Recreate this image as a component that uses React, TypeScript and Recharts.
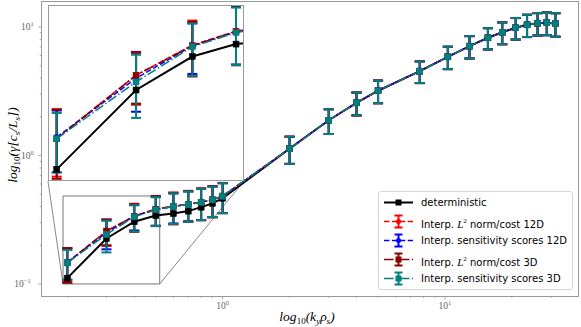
// Growth rate vs k_y rho_s — log-log errorbar chart with zoomed inset
import { ComposedChart, Line, XAxis, YAxis, ErrorBar, ReferenceArea, ReferenceLine } from 'recharts';

const kyRho = [0.2, 0.3, 0.4, 0.5, 0.6, 0.7, 0.8, 0.9, 1.0, 2, 3, 4, 5, 7.7, 10.3, 12.9, 15.6, 18.1, 20.8, 23.4, 26.1, 28.7, 31.4];
const highK = [1.13, 1.88, 2.57, 3.19, 4.53, 5.86, 7.09, 8.24, 9.1, 9.86, 10.4, 10.7, 10.8, 10.6];
const highKErr = [0.27, 0.41, 0.52, 0.64, 0.87, 1.16, 1.4, 1.55, 1.76, 1.88, 2.05, 2.12, 2.17, 2.2];

const deterministic = [0.111, 0.226, 0.305, 0.341, 0.353, 0.369, 0.396, 0.424, 0.465, ...highK];
const l2Cost12 = [0.147, 0.258, 0.338, 0.383, 0.403, 0.418, 0.434, 0.454, 0.484, ...highK];
const l2Cost12Err = [0.043, 0.06, 0.083, 0.1, 0.112, 0.113, 0.12, 0.124, 0.128, ...highKErr];
const sens12 = [0.148, 0.251, 0.336, 0.38, 0.401, 0.416, 0.433, 0.452, 0.482, ...highK];
const sens12Err = [0.04, 0.065, 0.075, 0.096, 0.105, 0.108, 0.118, 0.12, 0.126, ...highKErr];
const l2Cost3 = [0.146, 0.258, 0.336, 0.382, 0.402, 0.417, 0.433, 0.453, 0.483, ...highK];
const l2Cost3Err = [0.044, 0.058, 0.08, 0.1, 0.11, 0.112, 0.12, 0.123, 0.127, ...highKErr];
const sens3 = [0.146, 0.243, 0.333, 0.378, 0.4, 0.415, 0.432, 0.452, 0.482, ...highK];
const sens3Err = [0.038, 0.067, 0.077, 0.095, 0.107, 0.11, 0.118, 0.12, 0.126, ...highKErr];

const xTicks = [0.2, 0.3, 0.4, 0.5, 0.6, 0.7, 0.8, 0.9, 1, 2, 3, 4, 5, 6, 7, 8, 9, 10, 20, 30];
const yTicks = [0.1, 0.2, 0.3, 0.4, 0.5, 0.6, 0.7, 0.8, 0.9, 1, 2, 3, 4, 5, 6, 7, 8, 9, 10];
const majorLabels: Record<number, string> = { 0.1: '\u22121', 1: '0', 10: '1' };

// zoom window shown in the inset, and the inset's lower corners in main-axis units
const zoomX = [0.1913, 0.5208];
const zoomY = [0.1, 0.484];
const insetCornerL = { x: 0.1637, y: 0.633 };
const insetCornerR = { x: 1.247, y: 0.633 };

const rows = kyRho.map((kx, i) => ({
  kx,
  det: deterministic[i],
  l2_12: l2Cost12[i], l2_12e: l2Cost12Err[i],
  s_12: sens12[i], s_12e: sens12Err[i],
  l2_3: l2Cost3[i], l2_3e: l2Cost3Err[i],
  s_3: sens3[i], s_3e: sens3Err[i],
}));

const SPINE = '#999';
const TICK_FONT = '"Liberation Serif", "DejaVu Serif", serif';

const XTick = (props: any) => {
  const { x, y, payload } = props;
  const exp = majorLabels[payload.value];
  return (
    <g>
      <line x1={x} x2={x} y1={y} y2={y + (exp ? 3.5 : 2)} stroke={SPINE} strokeWidth={0.8} />
      {exp && (
        <text x={x} y={y + 13} textAnchor="middle" fontFamily={TICK_FONT} fontSize={9.5} fill="#666">
          10<tspan dy={-4} fontSize={6.5}>{exp}</tspan>
        </text>
      )}
    </g>
  );
};

const YTick = (props: any) => {
  const { x, y, payload } = props;
  const exp = majorLabels[payload.value];
  return (
    <g>
      <line x1={x - (exp ? 3.5 : 2)} x2={x} y1={y} y2={y} stroke={SPINE} strokeWidth={0.8} />
      {exp && (
        <text x={x - (exp.length > 1 ? 11 : 8)} y={y + 3.5} textAnchor="end" fontFamily={TICK_FONT} fontSize={9.5} fill="#666">
          10<tspan dy={-4} fontSize={6.5}>{exp}</tspan>
        </text>
      )}
    </g>
  );
};

const square = (color: string, size: number) => (p: any) => (
  <rect key={`sq-${p.index}`} x={p.cx - size / 2} y={p.cy - size / 2} width={size} height={size} fill={color} stroke={color} strokeWidth={0.5} />
);

const DASHED = '5.5 2.4';
const DASHDOT = '9.6 2.4 1.5 2.4';

function seriesList(tag: string) {
  return [
    <Line key={`${tag}-det`} dataKey="det" stroke="#000" strokeWidth={2} dot={square('#000', 6)} isAnimationActive={false} />,
    <Line key={`${tag}-l2_12`} dataKey="l2_12" stroke="#ff0000" strokeWidth={1.5} strokeDasharray={DASHED}
      dot={{ r: 2.5, fill: '#ff0000', stroke: '#ff0000' }} isAnimationActive={false}>
      <ErrorBar dataKey="l2_12e" width={5} stroke="#ff0000" strokeWidth={2} />
    </Line>,
    <Line key={`${tag}-s_12`} dataKey="s_12" stroke="#0000ff" strokeWidth={1.5} strokeDasharray={DASHED}
      dot={{ r: 2.5, fill: '#0000ff', stroke: '#0000ff' }} isAnimationActive={false}>
      <ErrorBar dataKey="s_12e" width={5} stroke="#0000ff" strokeWidth={2} />
    </Line>,
    <Line key={`${tag}-l2_3`} dataKey="l2_3" stroke="#8b0000" strokeWidth={1.5} strokeDasharray={DASHDOT}
      dot={square('#8b0000', 6)} isAnimationActive={false}>
      <ErrorBar dataKey="l2_3e" width={5} stroke="#8b0000" strokeWidth={2} />
    </Line>,
    <Line key={`${tag}-s_3`} dataKey="s_3" stroke="#008080" strokeWidth={1.5} strokeDasharray={DASHDOT}
      dot={square('#008080', 6)} isAnimationActive={false}>
      <ErrorBar dataKey="s_3e" width={5} stroke="#008080" strokeWidth={2} />
    </Line>,
  ];
}

const legendItems = [
  { label: 'deterministic', color: '#000', dash: undefined, marker: 'square', err: false },
  { label: 'L2_12', color: '#ff0000', dash: DASHED, marker: 'circle', err: true },
  { label: 'Interp. sensitivity scores 12D', color: '#0000ff', dash: DASHED, marker: 'circle', err: true },
  { label: 'L2_3', color: '#8b0000', dash: DASHDOT, marker: 'square', err: true },
  { label: 'Interp. sensitivity scores 3D', color: '#008080', dash: DASHDOT, marker: 'square', err: true },
];

function LegendLabel({ label }: { label: string }) {
  if (label.startsWith('L2_')) {
    const dim = label.endsWith('12') ? '12D' : '3D';
    return (
      <span>
        Interp. <span style={{ fontFamily: TICK_FONT, fontStyle: 'italic', fontSize: 11 }}>L</span>
        <sup style={{ fontFamily: TICK_FONT, fontSize: 7, verticalAlign: 5 }}>2</sup> norm/cost {dim}
      </span>
    );
  }
  return <span>{label}</span>;
}

export default function App() {
  return (
    <div style={{ position: 'absolute', left: 0, top: 0, width: 581, height: 327, background: '#fff' }}>
      <ComposedChart width={581} height={327} data={rows} margin={{ top: 1.5, right: 2.5, bottom: 0, left: 0 }}>
        <XAxis dataKey="kx" type="number" scale="log" domain={[0.1534, 39.87]} allowDataOverflow
          ticks={xTicks} interval={0} tick={<XTick />} tickLine={false} axisLine={false}
          tickSize={0} tickMargin={0} height={31} />
        <YAxis type="number" scale="log" domain={[0.0806, 15.79]} allowDataOverflow
          ticks={yTicks} interval={0} tick={<YTick />} tickLine={false} axisLine={false}
          tickSize={0} tickMargin={0} width={41.7} />
        <ReferenceArea x1={zoomX[0]} x2={zoomX[1]} y1={zoomY[0]} y2={zoomY[1]} fill="none" fillOpacity={0}
          stroke="#777" strokeWidth={1} ifOverflow="visible" />
        <ReferenceLine segment={[insetCornerL, { x: zoomX[0], y: zoomY[0] }]} stroke="#555" strokeWidth={0.7} ifOverflow="visible" />
        <ReferenceLine segment={[insetCornerR, { x: zoomX[1], y: zoomY[0] }]} stroke="#555" strokeWidth={0.7} ifOverflow="visible" />
        {seriesList('main')}
      </ComposedChart>

      {/* frame */}
      <div style={{ position: 'absolute', left: 41, top: 1, width: 538, height: 296, border: `1px solid ${SPINE}`, boxSizing: 'border-box', pointerEvents: 'none' }} />

      {/* inset */}
      <div style={{ position: 'absolute', left: 48, top: 5, width: 196, height: 176, background: '#fff' }}>
        <ComposedChart width={196} height={176} data={rows} margin={{ top: 0, right: 0, bottom: 0, left: 0 }}>
          <XAxis hide dataKey="kx" type="number" scale="log" domain={zoomX} allowDataOverflow />
          <YAxis hide type="number" scale="log" domain={zoomY} allowDataOverflow />
          {seriesList('inset')}
        </ComposedChart>
        <div style={{ position: 'absolute', left: 0, top: 0, width: 196, height: 176, border: `1px solid ${SPINE}`, boxSizing: 'border-box', pointerEvents: 'none' }} />
      </div>

      {/* axis labels */}
      <svg width={581} height={327} style={{ position: 'absolute', left: 0, top: 0, pointerEvents: 'none' }}>
        <text x={307} y={321} textAnchor="middle" fontFamily={TICK_FONT} fontSize={13.5} fontStyle="italic" fill="#000">
          log<tspan fontSize={9} dy={3} fontStyle="normal">10</tspan>
          <tspan dy={-3}>(k</tspan><tspan fontSize={9} dy={3}>y</tspan>
          <tspan dy={-3}>ρ</tspan><tspan fontSize={9} dy={3}>s</tspan><tspan dy={-3}>)</tspan>
        </text>
        <text transform="translate(16.5,145) rotate(-90)" textAnchor="middle" fontFamily={TICK_FONT} fontSize={13.5} fontStyle="italic" fill="#000">
          log<tspan fontSize={9} dy={3} fontStyle="normal">10</tspan>
          <tspan dy={-3}>(γ[c</tspan><tspan fontSize={9} dy={3}>s</tspan>
          <tspan dy={-3}>/L</tspan><tspan fontSize={9} dy={3}>s</tspan><tspan dy={-3}>])</tspan>
        </text>
      </svg>

      {/* legend */}
      <div style={{ position: 'absolute', left: 378, top: 191, width: 195, height: 99, border: '1px solid #d5d5d5', borderRadius: 3, background: 'rgba(255,255,255,0.85)', boxSizing: 'border-box' }}>
        {legendItems.map((it, i) => (
          <div key={it.label} style={{ position: 'absolute', left: 0, top: 0.5 + i * 19.1, height: 19, width: 193 }}>
            <svg width={32} height={19} style={{ position: 'absolute', left: 4, top: 0 }}>
              <line x1={1} x2={30} y1={9.5} y2={9.5} stroke={it.color} strokeWidth={it.err ? 1.5 : 2} strokeDasharray={it.dash} />
              {it.err && (
                <g stroke={it.color} strokeWidth={2}>
                  <line x1={15.5} x2={15.5} y1={3.5} y2={15.5} />
                  <line x1={11.5} x2={19.5} y1={3.5} y2={3.5} />
                  <line x1={11.5} x2={19.5} y1={15.5} y2={15.5} />
                </g>
              )}
              {it.marker === 'square'
                ? <rect x={12.5} y={6.5} width={6} height={6} fill={it.color} />
                : <circle cx={15.5} cy={9.5} r={2.5} fill={it.color} />}
            </svg>
            <div style={{ position: 'absolute', left: 42, top: 2, fontFamily: '"DejaVu Sans", sans-serif', fontSize: 10, lineHeight: '15px', color: '#000', whiteSpace: 'nowrap' }}>
              <LegendLabel label={it.label} />
            </div>
          </div>
        ))}
      </div>
    </div>
  );
}
